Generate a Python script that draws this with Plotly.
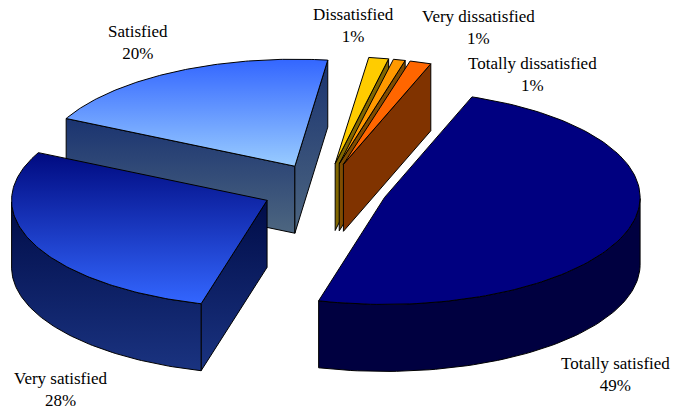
import numpy as np
import plotly.graph_objects as go

categories = ["Totally satisfied", "Very satisfied", "Satisfied",
              "Dissatisfied", "Very dissatisfied", "Totally dissatisfied"]
values = [48.6, 28.2, 19.7, 1.3, 0.8, 1.4]

top_colors = [("#000080", "#000080"), ("#000a80", "#3366ff"), ("#3366ff", "#99ccff"),
              ("#ffcc00", "#ffcc00"), ("#ff9900", "#ff9900"), ("#ff6600", "#ff6600")]
side_colors = [("#000040", "#000040"), ("#000c48", "#1a3380"), ("#1a3370", "#4d6680"),
               ("#806600", "#806600"), ("#804c00", "#804c00"), ("#803300", "#803300")]
label_pos = [(615, 374), (61, 389), (138, 42), (353, 25), (478, 27), (532, 74)]

W, H = 676, 407
CX, CY, RX, RY, DEPTH, EXPLODE = 324.5, 189.5, 255.5, 107, 67, 63
START = 70.0

fig = go.Figure()


def poly(xs, ys, colors):
    fig.add_trace(go.Scatter(
        x=list(xs) + [xs[0]], y=list(ys) + [ys[0]], mode="lines",
        line=dict(color="black", width=1), fill="toself",
        fillgradient=dict(type="vertical", colorscale=[[0, colors[1]], [1, colors[0]]]),
        hoverinfo="skip", showlegend=False))


angles = START - np.cumsum([0] + values) * 3.6
slices = []
for i, v in enumerate(values):
    t0, t1 = angles[i], angles[i + 1]
    mid = np.radians((t0 + t1) / 2)
    cx = CX + EXPLODE * np.cos(mid)
    cy = CY - EXPLODE * (RY / RX) * np.sin(mid)
    slices.append((i, t0, t1, cx, cy))

# back to front
order = [2, 3, 4, 5, 1, 0]
for i, t0, t1, cx, cy in (slices[j] for j in order):
    ts = np.radians(np.linspace(t0, t1, 120))
    ex = cx + RX * np.cos(ts)
    ey = cy - RY * np.sin(ts)

    # radial walls that face the viewer
    if np.cos(np.radians(t0)) < 0:
        poly([cx, ex[0], ex[0], cx], [cy, ey[0], ey[0] + DEPTH, cy + DEPTH], side_colors[i])
    if np.cos(np.radians(t1)) > 0:
        poly([cx, ex[-1], ex[-1], cx], [cy, ey[-1], ey[-1] + DEPTH, cy + DEPTH], side_colors[i])

    # outer rim, front half only
    sn = np.sin(ts)
    vis = sn <= 0
    if vis.sum() > 1:
        rx_, ry_ = ex[vis], ey[vis]
        poly(list(rx_) + list(rx_[::-1]), list(ry_) + list(ry_[::-1] + DEPTH), side_colors[i])

    # top face
    poly([cx] + list(ex), [cy] + list(ey), top_colors[i])

annotations = [
    dict(x=lx, y=ly, xref="x", yref="y", showarrow=False, align="center",
         text=f"{c}<br>{round(v):d}%",
         font=dict(family="Liberation Serif", size=17, color="black"))
    for c, v, (lx, ly) in zip(categories, values, label_pos)
]

fig.update_layout(
    width=W, height=H, margin=dict(l=0, r=0, t=0, b=0),
    paper_bgcolor="white", plot_bgcolor="white", showlegend=False,
    xaxis=dict(range=[0, W], visible=False, fixedrange=True),
    yaxis=dict(range=[H, 0], visible=False, fixedrange=True),
    annotations=annotations,
)
fig.write_html("out.html", config={"displayModeBar": False},
               post_script="document.body.style.margin='0';document.body.style.overflow='hidden';")
